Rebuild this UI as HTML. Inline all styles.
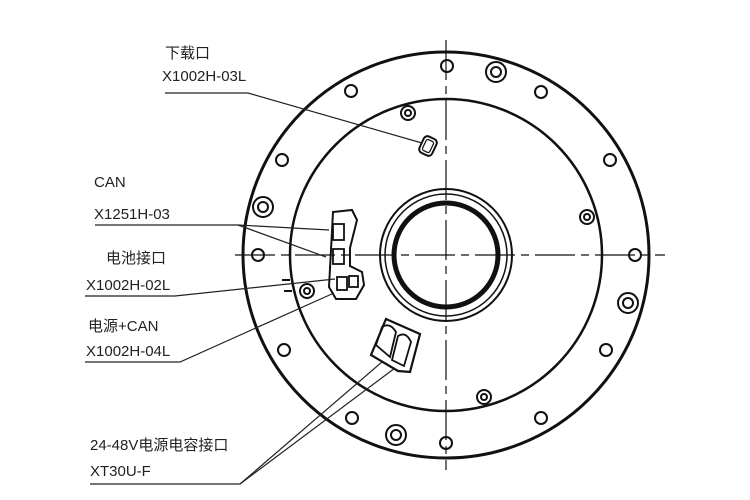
<!DOCTYPE html>
<html><head><meta charset="utf-8"><style>
body{margin:0;background:#fff;}
svg{display:block}
text{font-family:"Liberation Sans","Noto Sans CJK SC",sans-serif;font-size:15px;fill:#222}
</style></head><body>
<svg width="750" height="500" viewBox="0 0 750 500" xmlns="http://www.w3.org/2000/svg">
<g fill="none" stroke="#111">
<circle cx="446" cy="255" r="203" stroke-width="3"/>
<circle cx="446" cy="255" r="156" stroke-width="2.5"/>
<circle cx="446" cy="255" r="66" stroke-width="2"/>
<circle cx="446" cy="255" r="61" stroke-width="1.5"/>
<circle cx="446" cy="255" r="52" stroke-width="5"/>
<line x1="235" y1="255" x2="665" y2="255" stroke-width="1.2" stroke-dasharray="40,6,8,6"/>
<line x1="446" y1="40" x2="446" y2="470" stroke-width="1.2" stroke-dasharray="40,6,8,6"/>
<g stroke-width="2">
<circle cx="447" cy="66" r="6"/><circle cx="541" cy="92" r="6"/><circle cx="610" cy="160" r="6"/>
<circle cx="635" cy="255" r="6"/><circle cx="606" cy="350" r="6"/><circle cx="541" cy="418" r="6"/>
<circle cx="446" cy="443" r="6"/><circle cx="352" cy="418" r="6"/><circle cx="284" cy="350" r="6"/>
<circle cx="258" cy="255" r="6"/><circle cx="282" cy="160" r="6"/><circle cx="351" cy="91" r="6"/>
</g>
<g stroke-width="2">
<circle cx="496" cy="72" r="10"/><circle cx="496" cy="72" r="5"/>
<circle cx="628" cy="303" r="10"/><circle cx="628" cy="303" r="5"/>
<circle cx="396" cy="435" r="10"/><circle cx="396" cy="435" r="5"/>
<circle cx="263" cy="207" r="10"/><circle cx="263" cy="207" r="5"/>
<circle cx="587" cy="217" r="7"/><circle cx="587" cy="217" r="3"/>
<circle cx="484" cy="397" r="7"/><circle cx="484" cy="397" r="3"/>
<circle cx="307" cy="291" r="7"/><circle cx="307" cy="291" r="3"/>
<circle cx="408" cy="113" r="7"/><circle cx="408" cy="113" r="3"/>
</g>
<rect x="421" y="137" width="14" height="18" rx="4" stroke-width="2" transform="rotate(25 428 146)"/>
<rect x="424" y="140" width="8" height="12" rx="2" stroke-width="1.2" transform="rotate(25 428 146)"/>
<path d="M333 212 L352 210 L357 220 L350 248 L350 266 L362 272 L364 285 L356 299 L336 299 L329 287 L331 250 Z" stroke-width="2"/>
<rect x="333" y="224" width="11" height="16" stroke-width="1.8"/>
<rect x="333" y="249" width="11" height="15" stroke-width="1.8"/>
<rect x="337" y="277" width="10" height="13" stroke-width="1.8"/>
<rect x="349" y="276" width="9" height="11" stroke-width="1.8"/>
<line x1="282" y1="280" x2="290" y2="280" stroke-width="2"/>
<line x1="284" y1="291" x2="292" y2="291" stroke-width="2"/>
<path d="M386 319 L420 334 L410 372 L398 371 L371 355 Z" stroke-width="2.2"/>
<path d="M376 345 L382 327 Q390 322 396 332 L390 357 Z" stroke-width="1.8"/>
<path d="M392 360 L398 336 Q406 331 411 342 L404 366 Z" stroke-width="1.8"/>
</g>
<g fill="none" stroke="#222" stroke-width="1.2">
<polyline points="165,93 248,93 422,143"/>
<polyline points="95,225 238,225 329,230"/>
<line x1="238" y1="225" x2="326" y2="257"/>
<polyline points="85,296 175,296 335,279"/>
<polyline points="85,362 180,362 334,293"/>
<polyline points="90,484 240,484 382,362"/>
<line x1="240" y1="484" x2="395" y2="368"/>
</g>
<text x="165" y="58">下载口</text>
<text x="162" y="81">X1002H-03L</text>
<text x="94" y="187">CAN</text>
<text x="94" y="219">X1251H-03</text>
<text x="106" y="263">电池接口</text>
<text x="86" y="290">X1002H-02L</text>
<text x="88" y="331">电源+CAN</text>
<text x="86" y="356">X1002H-04L</text>
<text x="90" y="450">24-48V电源电容接口</text>
<text x="90" y="476">XT30U-F</text>
</svg>
</body></html>
